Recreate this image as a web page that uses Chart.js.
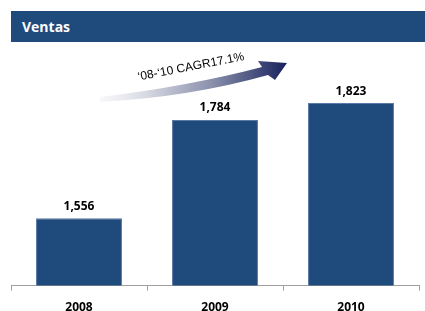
<!DOCTYPE html>
<html>
<head>
<meta charset="utf-8">
<script src="https://cdn.jsdelivr.net/npm/chart.js@4"></script>
<style>
  html, body { margin: 0; padding: 0; background: #fff; }
  #wrap { position: relative; width: 425px; height: 311px; overflow: hidden; }
  #header {
    position: absolute; left: 11px; top: 11px; width: 414px; height: 31px;
    background: #1f4a7c; color: #fff; font: bold 14px "Open Sans", sans-serif;
    line-height: 31px; padding-left: 11px; box-sizing: border-box;
  }
  canvas { position: absolute; left: 0; top: 0; }
</style>
</head>
<body>
<div id="wrap">
  <canvas id="salesChart" width="425" height="325"></canvas>
  <div id="header">Ventas</div>
</div>
<script>
// Data
const years = ['2008', '2009', '2010'];
const sales = [1556, 1784, 1823];
const cagrText = '\u201808-\u201810 CAGR17.1%';

const barColor = '#1f4a7c';

// Value labels above each bar
const valueLabels = {
  id: 'valueLabels',
  afterDatasetsDraw(chart) {
    const ctx = chart.ctx;
    const meta = chart.getDatasetMeta(0);
    ctx.save();
    ctx.font = 'bold 12px "Open Sans", sans-serif';
    ctx.fillStyle = '#000';
    ctx.textAlign = 'center';
    ctx.textBaseline = 'bottom';
    meta.data.forEach((bar, i) => {
      ctx.fillText(sales[i].toLocaleString('en-US'), bar.x, bar.y - 6);
    });
    ctx.restore();
  }
};

// Curved growth arrow with CAGR text
const cagrArrow = {
  id: 'cagrArrow',
  afterDraw(chart) {
    const ctx = chart.ctx;
    ctx.save();
    const grad = ctx.createLinearGradient(100, 0, 287, 0);
    grad.addColorStop(0, 'rgba(230,230,236,0.3)');
    grad.addColorStop(0.25, '#d6d8e2');
    grad.addColorStop(0.6, '#8a8fab');
    grad.addColorStop(1, '#17225c');
    ctx.fillStyle = grad;
    ctx.beginPath();
    ctx.moveTo(100, 97);
    ctx.quadraticCurveTo(190, 86, 262, 67);
    ctx.lineTo(258, 61);
    ctx.lineTo(287, 63);
    ctx.lineTo(275, 80);
    ctx.lineTo(268, 75);
    ctx.quadraticCurveTo(190, 97, 100, 102);
    ctx.closePath();
    ctx.fill();

    ctx.translate(191, 67);
    ctx.rotate(-11 * Math.PI / 180);
    ctx.font = '12px "Liberation Sans", Arial, sans-serif';
    ctx.fillStyle = '#000';
    ctx.textAlign = 'center';
    ctx.textBaseline = 'middle';
    ctx.fillText(cagrText, 0, 0);
    ctx.restore();
  }
};

const ctx = document.getElementById('salesChart').getContext('2d');
new Chart(ctx, {
  type: 'bar',
  data: {
    labels: years,
    datasets: [{
      data: sales,
      backgroundColor: barColor,
      borderColor: '#5a7aa6',
      borderWidth: 1,
      barPercentage: 0.632,
      categoryPercentage: 1
    }]
  },
  options: {
    responsive: false,
    animation: false,
    layout: { padding: { left: 11, right: 6, top: 44, bottom: 0 } },
    plugins: {
      legend: { display: false },
      tooltip: { enabled: false }
    },
    scales: {
      y: {
        display: false,
        min: 1400,
        max: 1960
      },
      x: {
        grid: {
          offset: true,
          drawOnChartArea: false,
          drawTicks: true,
          tickLength: 5,
          color: '#a0a0a0'
        },
        border: { display: true, color: '#a0a0a0' },
        ticks: {
          color: '#000',
          padding: 10,
          font: { family: '"Open Sans", sans-serif', size: 12, weight: 'bold' }
        }
      }
    }
  },
  plugins: [valueLabels, cagrArrow]
});
</script>
</body>
</html>
